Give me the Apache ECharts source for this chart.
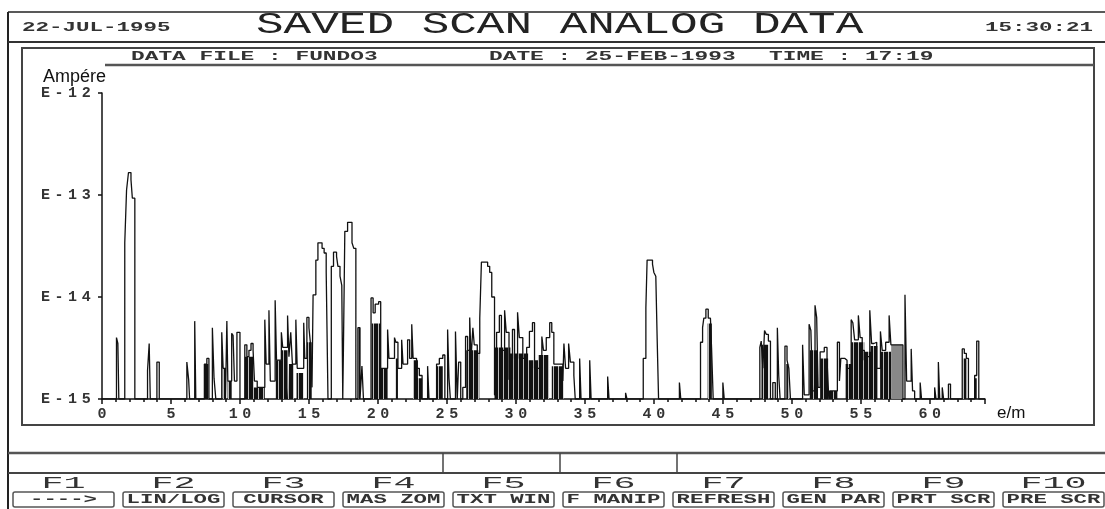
<!DOCTYPE html>
<html><head><meta charset="utf-8">
<script src="https://cdn.jsdelivr.net/npm/echarts@6/dist/echarts.min.js"></script>
<style>html,body{margin:0;padding:0;background:#fff}#c{width:1105px;height:509px}</style>
</head><body><div id="c"></div>
<script>
// ---------- data ----------
const BASE = 1e-15;
const screenDate = '22-JUL-1995';
const screenTitle = 'SAVED SCAN ANALOG DATA';
const screenTime = '15:30:21';
const fileLabel = 'DATA FILE : FUNDO3';
const dateLabel = 'DATE : 25-FEB-1993';
const timeLabel = 'TIME : 17:19';
const yAxisName = 'Ampére';
const xAxisName = 'e/m';
const fKeys = ['F1','F2','F3','F4','F5','F6','F7','F8','F9','F10'];
const fKeyLabels = ['---->','LIN/LOG','CURSOR','MAS ZOM','TXT WIN','F MANIP','REFRESH','GEN PAR','PRT SCR','PRE SCR'];

// step signal: [e/m, ampere] (value held until next point)
const signal = [
[0,1e-15],
[1.05,4.0e-15],[1.15,3.5e-15],[1.22,1e-15],
[1.65,3.4e-14],[1.78,1.12e-13],[1.92,1.66e-13],[2.1,1.41e-13],[2.2,9.3e-14],[2.38,1e-15],
[3.3,1.9e-15],[3.42,3.5e-15],[3.5,1e-15],
[3.98,2.3e-15],[4.15,1e-15],
[6.15,2.3e-15],[6.28,1.55e-15],[6.35,1e-15],
[6.72,5.8e-15],[6.8,1e-15],
[7.42,2.2e-15],[7.6,2.5e-15],[7.75,1e-15],
[8.0,5.0e-15],[8.12,1.6e-15],[8.25,1e-15],
[8.68,4.5e-15],[8.78,2.0e-15],[8.95,1e-15],
[9.05,5.8e-15],[9.12,1.5e-15],
[9.4,4.4e-15],[9.5,4.2e-15],[9.6,1.5e-15],
[9.78,4.5e-15],[10.0,1e-15],
[10.35,3.4e-15],[10.5,2.6e-15],[10.65,3.0e-15],[10.8,3.5e-15],[10.95,3.0e-15],[11.05,1.5e-15],[11.25,1.3e-15],
[11.8,6.0e-15],[11.9,2.2e-15],
[12.1,7.4e-15],[12.2,1.5e-15],
[12.55,9.3e-15],[12.65,2.4e-15],
[13.0,4.5e-15],[13.1,3.2e-15],
[13.45,6.6e-15],[13.55,2.6e-15],
[13.68,4.5e-15],[13.8,2.2e-15],
[14.05,6.0e-15],[14.15,2.0e-15],
[14.62,5.6e-15],[14.7,2.5e-15],
[14.85,6.3e-15],[15.0,5.0e-15],[15.1,3.6e-15],[15.22,1.3e-15],
[15.3,1.05e-14],[15.5,2.3e-14],[15.65,3.4e-14],[15.95,3.0e-14],[16.1,2.7e-14],[16.25,1.74e-14],[16.38,1e-15],
[16.62,2.0e-14],[16.78,2.75e-14],[17.0,2.5e-14],[17.1,2.0e-14],[17.25,1.6e-14],[17.38,1.3e-14],[17.45,1e-15],
[17.5,3.2e-15],[17.6,4.4e-14],[17.8,5.4e-14],[18.12,3.4e-14],[18.25,3.0e-14],[18.4,1e-15],
[18.55,5.0e-15],[18.7,1e-15],
[18.84,2.1e-15],[18.95,1e-15],
[19.5,9.8e-15],[19.65,7.0e-15],[19.8,8.5e-15],[20.05,9.0e-15],[20.2,2.0e-15],
[20.7,4.8e-15],[20.8,2.5e-15],
[21.2,4.0e-15],[21.3,3.6e-15],[21.45,2.0e-15],
[21.72,3.8e-15],[21.82,2.2e-15],
[22.15,3.8e-15],[22.3,2.5e-15],
[22.45,5.4e-15],[22.55,2.5e-15],[22.8,2.0e-15],[23.0,1.7e-15],[23.2,1e-15],
[23.6,2.1e-15],[23.7,1e-15],
[24.25,2.2e-15],[24.45,2.5e-15],[24.7,2.7e-15],[24.85,1e-15],
[25.05,4.8e-15],[25.15,1.6e-15],[25.25,1e-15],
[25.62,4.6e-15],[25.75,1e-15],
[25.85,2.3e-15],[26.0,1e-15],
[26.15,1.3e-15],[26.35,4.1e-15],[26.5,3.0e-15],[26.65,6.3e-15],[26.75,2.5e-15],[26.88,5.0e-15],[26.98,3.4e-15],[27.2,2.8e-15],[27.38,6.2e-15],
[27.5,2.2e-14],[27.95,2.0e-14],[28.1,1.74e-14],[28.25,1.0e-14],[28.45,1.1e-15],
[28.6,4.5e-15],[28.8,6.6e-15],[28.95,3.0e-15],[29.18,7.4e-15],[29.3,4.5e-15],[29.5,1.55e-15],
[29.75,4.8e-15],[29.9,2.5e-15],[30.12,7.1e-15],[30.25,4.0e-15],[30.5,2.5e-15],[30.78,3.2e-15],[30.98,4.6e-15],[31.2,5.6e-15],[31.35,2.0e-15],
[31.88,4.1e-15],[32.0,3.0e-15],[32.2,4.0e-15],[32.45,5.6e-15],[32.6,4.5e-15],[32.75,2.2e-15],[33.4,1.5e-15],
[33.48,3.5e-15],[33.6,2.0e-15],[33.82,3.5e-15],[33.95,2.3e-15],[34.2,1.7e-15],[34.3,1e-15],
[34.62,2.5e-15],[34.72,1e-15],
[35.35,2.4e-15],[35.45,1e-15],
[36.65,1.66e-15],[36.75,1e-15],
[37.95,1.15e-15],[38.05,1e-15],
[39.23,2.5e-15],[39.42,7.8e-15],[39.51,2.3e-14],[39.9,2.1e-14],[40.0,1.74e-14],[40.14,1.6e-14],[40.24,3.8e-15],[40.34,1e-15],
[41.85,1.45e-15],[41.95,1e-15],
[43.38,3.6e-15],[43.53,5.0e-15],[43.62,6.2e-15],[43.77,7.6e-15],[43.94,6.2e-15],[44.1,6.0e-15],[44.18,3.2e-15],[44.3,1e-15],
[45.0,1.45e-15],[45.1,1e-15],
[47.68,3.2e-15],[47.78,3.7e-15],[47.9,2.0e-15],[48.02,4.7e-15],[48.15,4.3e-15],[48.3,3.7e-15],[48.45,1e-15],
[48.62,1.45e-15],[48.8,1e-15],
[48.95,5.0e-15],[49.05,1.7e-15],[49.15,1e-15],
[49.5,3.3e-15],[49.65,2.4e-15],[49.78,2.0e-15],[49.9,1e-15],
[50.78,3.4e-15],[50.9,1.1e-15],
[51.25,5.4e-15],[51.38,4.7e-15],[51.5,1.2e-15],
[51.68,8.3e-15],[51.8,6.3e-15],[51.9,1.3e-15],
[52.05,2.9e-15],[52.35,3.2e-15],[52.55,2.4e-15],[52.68,1e-15],
[52.75,1.2e-15],[53.3,3.6e-15],[53.45,1.5e-15],[53.55,2.5e-15],[53.85,2.4e-15],[54.0,2.0e-15],
[54.3,6.0e-15],[54.42,5.6e-15],[54.55,3.8e-15],[54.82,6.6e-15],[54.95,4.0e-15],[55.1,3.0e-15],[55.25,2.4e-15],[55.35,2.6e-15],
[55.65,7.4e-15],[55.78,3.5e-15],[55.95,3.6e-15],[56.15,2.0e-15],
[56.42,4.6e-15],[56.55,3.0e-15],[56.8,3.6e-15],[57.05,6.6e-15],[57.18,3.4e-15],[58.05,1e-15],
[58.2,1.05e-14],[58.32,1.5e-15],
[58.65,3.1e-15],[58.75,1.2e-15],[58.9,1e-15],
[59.3,1.45e-15],[59.4,1e-15],
[60.35,1.3e-15],[60.45,1e-15],
[60.62,2.3e-15],[60.72,1e-15],
[60.9,1.3e-15],[61.0,1e-15],
[61.35,1.4e-15],[61.5,1e-15],
[62.35,3.1e-15],[62.5,2.8e-15],[62.65,2.5e-15],[62.8,1e-15],
[63.25,1.7e-15],[63.4,3.7e-15],[63.55,1e-15],
[64,1e-15]
];

// dense (filled) regions: [from e/m, to e/m, ampere level]
const denseBands = [
[7.45,7.75,2.2e-15],[8.75,8.95,2.0e-15],[9.1,9.4,1.5e-15],
[10.35,11.0,2.6e-15],[11.0,11.8,1.3e-15],
[12.6,13.0,2.4e-15],[13.0,13.45,3.0e-15],[13.55,13.9,2.2e-15],[14.1,14.6,1.8e-15],[14.85,15.2,3.6e-15],
[18.55,18.7,5.0e-15],[19.55,20.2,5.5e-15],[20.2,20.7,2.0e-15],[21.3,21.45,2.5e-15],
[22.55,22.9,2.4e-15],[22.9,23.2,1.6e-15],[24.25,24.7,2.1e-15],
[26.4,27.35,3.0e-15],[28.45,29.6,3.2e-15],[29.6,30.9,2.8e-15],[30.9,31.6,2.4e-15],
[31.6,32.4,2.7e-15],[32.6,33.45,2.1e-15],
[43.9,44.2,5.5e-15],[47.8,48.3,3.4e-15],[49.6,49.8,2.2e-15],
[51.3,51.9,3.0e-15],[52.05,52.65,2.5e-15],[52.7,53.3,1.2e-15],
[53.9,54.3,2.2e-15],[54.3,55.25,3.6e-15],[55.25,55.7,2.9e-15],[55.7,56.2,3.3e-15],
[56.4,57.2,2.9e-15],[62.4,62.65,2.5e-15],[63.25,63.4,1.6e-15]
];
const greyBands = [[57.2,58.0,3.4e-15]];

// ---------- helpers ----------
function bandsToSteps(bands){
  const out = [[0, BASE]];
  bands.forEach(b => { out.push([b[0], b[2]]); out.push([b[1], BASE]); });
  out.push([64, BASE]);
  return out;
}
// vertical-stripe texture for dense line regions
function stripePattern(){
  const cv = document.createElement('canvas');
  cv.width = 5; cv.height = 4;
  const ctx = cv.getContext('2d');
  ctx.fillStyle = '#111'; ctx.fillRect(0,0,5,4);
  ctx.fillStyle = '#bbb'; ctx.fillRect(3,0,1,4);
  return { image: cv, repeat: 'repeat' };
}
const MONO = 'Liberation Mono';
function monoText(str, x, y, pitch, size, weight, color){
  return { type:'text', x:x, y:y, scaleX: pitch/(0.6*size), silent:true, z:50,
    style:{ text:str, fontFamily:MONO, fontSize:size, fontWeight:weight||'normal', fill:color||'#333',
      textAlign:'left', textVerticalAlign:'middle', align:'left', verticalAlign:'middle' } };
}
function monoCenter(str, cx, y, pitch, size, weight, color){
  return monoText(str, cx - pitch*str.length/2, y, pitch, size, weight, color);
}
function hline(x1,x2,y,w,c){ return {type:'line', silent:true, shape:{x1:x1,y1:y,x2:x2,y2:y}, style:{stroke:c||'#333', lineWidth:w||1.5}}; }
function vline(x,y1,y2,w,c){ return {type:'line', silent:true, shape:{x1:x,y1:y1,x2:x,y2:y2}, style:{stroke:c||'#333', lineWidth:w||1.5}}; }
function spaced(s){ return String(s).split('').map(ch => '{c|' + ch + '}').join(''); }

const graphics = [
  hline(8,1105,12,1.5,'#222'),
  vline(8,12,509,2,'#222'),
  hline(8,1105,42,2,'#333'),
  {type:'rect', silent:true, shape:{x:22,y:48,width:1072,height:377}, style:{fill:'none', stroke:'#444', lineWidth:2}},
  hline(105,1094,65,2.5,'#555'),
  hline(8,1105,453,2.5,'#555'),
  hline(8,1105,473,2,'#444'),
  vline(443,453,473,1.5,'#444'), vline(560,453,473,1.5,'#444'), vline(677,453,473,1.5,'#444'),
  monoText(screenDate, 22, 28, 13.5, 13, 'bold'),
  monoText(screenTitle, 256, 25, 27.6, 30, 'normal', '#222'),
  monoText(screenTime, 985, 28, 13.5, 13, 'bold'),
  monoText(fileLabel, 131, 57, 13.7, 13, 'bold'),
  monoText(dateLabel, 489, 57, 13.7, 13, 'bold'),
  monoText(timeLabel, 769, 57, 13.7, 13, 'bold')
];
fKeys.forEach((k, i) => {
  const bx = 13 + i*110;
  const cx = bx + 50.5;
  graphics.push({type:'rect', silent:true, shape:{x:bx, y:492, width:101, height:15, r:2}, style:{fill:'none', stroke:'#555', lineWidth:1.5}});
  graphics.push(monoCenter(k, cx, 484, 22, 16, 'normal', '#333'));
  graphics.push(monoCenter(fKeyLabels[i], cx, 500, 13.4, 12, 'bold', '#333'));
});

const tickRich = { c: { width: 13.6, align:'center', fontFamily: MONO, fontSize: 15, fontWeight:'bold', color:'#333' } };

const chart = echarts.init(document.getElementById('c'), null, {renderer:'canvas'});
chart.setOption({
  animation:false,
  backgroundColor:'#fff',
  grid:{left:102, right:120, top:93, bottom:110},
  xAxis:{
    type:'value', min:0, max:64, interval:5,
    name:xAxisName, nameLocation:'end', nameGap:12,
    nameTextStyle:{fontFamily:'Liberation Sans', fontSize:17, color:'#111', verticalAlign:'top', padding:[6,0,0,0]},
    axisLine:{show:true, lineStyle:{color:'#111', width:1.5}},
    axisTick:{show:true, length:5, lineStyle:{color:'#111', width:1.5}},
    minorTick:{show:true, splitNumber:5, length:3, lineStyle:{color:'#111', width:1.5}},
    splitLine:{show:false},
    axisLabel:{margin:8, showMaxLabel:false, formatter: v => spaced(v), rich: tickRich}
  },
  yAxis:{
    type:'log', logBase:10, min:1e-15, max:1e-12,
    name:yAxisName, nameLocation:'end', nameGap:6,
    nameTextStyle:{fontFamily:'Liberation Sans', fontSize:18, color:'#111', align:'right', padding:[0,-4,0,0]},
    axisLine:{show:true, lineStyle:{color:'#111', width:1.5}},
    axisTick:{show:true, length:4, lineStyle:{color:'#111', width:1.5}},
    minorTick:{show:false},
    splitLine:{show:false},
    axisLabel:{margin:9, formatter: v => spaced('E' + Math.round(Math.log10(v))), rich: tickRich}
  },
  series:[
    { type:'line', name:'dense', step:'end', data:bandsToSteps(denseBands), showSymbol:false, silent:true,
      lineStyle:{width:0}, areaStyle:{color:stripePattern(), opacity:1, origin:BASE}, z:2 },
    { type:'line', name:'grey', step:'end', data:bandsToSteps(greyBands), showSymbol:false, silent:true,
      lineStyle:{width:0}, areaStyle:{color:'#888', opacity:1, origin:BASE}, z:2 },
    { type:'line', name:'signal', step:'end', data:signal, showSymbol:false, silent:true, sampling:null,
      lineStyle:{color:'#111', width:1.3}, z:3 }
  ],
  graphic: graphics
});
</script></body></html>
